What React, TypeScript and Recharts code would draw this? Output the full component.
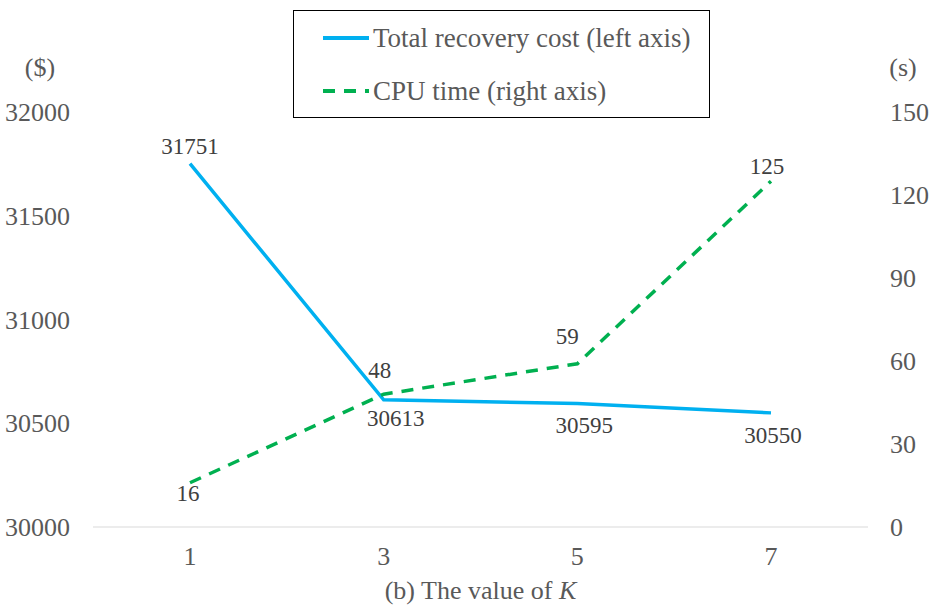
import React from "react";
import { LineChart, Line, XAxis, YAxis, LabelList } from "recharts";

const categories = ["1", "3", "5", "7"];
const recoveryCost = [31751, 30613, 30595, 30550];
const cpuTime = [16, 48, 59, 125];
const leftTicks = [30000, 30500, 31000, 31500, 32000];
const rightTicks = [0, 30, 60, 90, 120, 150];

const data = categories.map((k, i) => ({ k, cost: recoveryCost[i], cpu: cpuTime[i] }));

const FONT = "'Liberation Serif', 'Times New Roman', serif";
const TEXT = "#595959";
const LABEL = "#404040";
const BLUE = "#00B0F0";
const GREEN = "#00B050";

// label offsets per point (dx, dy from the point)
const costOffsets = [[0, -17], [12, 19], [7, 22], [2, 23]];
const cpuOffsets = [[-2, 11], [-4, -24], [-10, -27], [-4, -15]];

function makeLabel(offsets: number[][], values: number[]) {
  return (props: any) => {
    const { x, y, index } = props;
    const [dx, dy] = offsets[index];
    return (
      <text x={x + dx} y={y + dy} textAnchor="middle" dominantBaseline="central"
        fontFamily={FONT} fontSize={23} fill={LABEL}>
        {values[index]}
      </text>
    );
  };
}

function LegendBox() {
  return (
    <div style={{ position: "absolute", left: 293, top: 10, width: 417, height: 108, border: "1px solid #000", boxSizing: "border-box", background: "#fff" }}>
      <svg width={415} height={106} style={{ display: "block" }}>
        <line x1={29} y1={27} x2={75} y2={27} stroke={BLUE} strokeWidth={4} />
        <text x={79} y={27} dominantBaseline="central" fontFamily={FONT} fontSize={27} fill={TEXT}>Total recovery cost (left axis)</text>
        <line x1={29} y1={80} x2={75} y2={80} stroke={GREEN} strokeWidth={4} strokeDasharray="12 9" />
        <text x={79} y={80} dominantBaseline="central" fontFamily={FONT} fontSize={27} fill={TEXT}>CPU time (right axis)</text>
      </svg>
    </div>
  );
}

export default function App() {
  return (
    <div style={{ position: "absolute", left: 0, top: 0, width: 943, height: 610, background: "#fff", fontFamily: FONT }}>
      <LineChart width={943} height={610} data={data} margin={{ top: 112, right: 0, left: 0, bottom: 0 }}>
        <XAxis dataKey="k" height={83} axisLine={{ stroke: "#d9d9d9" }} tickLine={false}
          padding={{ left: 97, right: 97 }}
          tick={{ fontSize: 26, fill: TEXT, fontFamily: FONT }} tickMargin={14}
          label={(p: any) => {
            const vb = p.viewBox;
            const cx = vb.x + vb.width / 2;
            return (
              <text x={cx} y={590} textAnchor="middle" dominantBaseline="central" fontFamily={FONT} fontSize={26} fill={TEXT}>
                (b) The value of <tspan fontStyle="italic">K</tspan>
              </text>
            );
          }} />
        <YAxis yAxisId="left" orientation="left" width={93} domain={[30000, 32000]} ticks={leftTicks}
          axisLine={false} tickLine={false} tickMargin={17} interval={0}
          tick={{ fontSize: 26, fill: TEXT, fontFamily: FONT }} />
        <YAxis yAxisId="right" orientation="right" width={75} domain={[0, 150]} ticks={rightTicks}
          axisLine={false} tickLine={false} tickMargin={16} interval={0}
          tick={{ fontSize: 26, fill: TEXT, fontFamily: FONT, textAnchor: "start" }} />
        <Line yAxisId="left" dataKey="cost" stroke={BLUE} strokeWidth={3.5} dot={false} isAnimationActive={false}>
          <LabelList dataKey="cost" content={makeLabel(costOffsets, recoveryCost)} />
        </Line>
        <Line yAxisId="right" dataKey="cpu" stroke={GREEN} strokeWidth={3.5} strokeDasharray="12 9" dot={false} isAnimationActive={false}>
          <LabelList dataKey="cpu" content={makeLabel(cpuOffsets, cpuTime)} />
        </Line>
      </LineChart>
      <LegendBox />
      <div style={{ position: "absolute", left: 40, top: 68, transform: "translate(-50%, -50%)", fontSize: 26, color: TEXT }}>($)</div>
      <div style={{ position: "absolute", left: 903, top: 68, transform: "translate(-50%, -50%)", fontSize: 26, color: TEXT }}>(s)</div>
    </div>
  );
}
